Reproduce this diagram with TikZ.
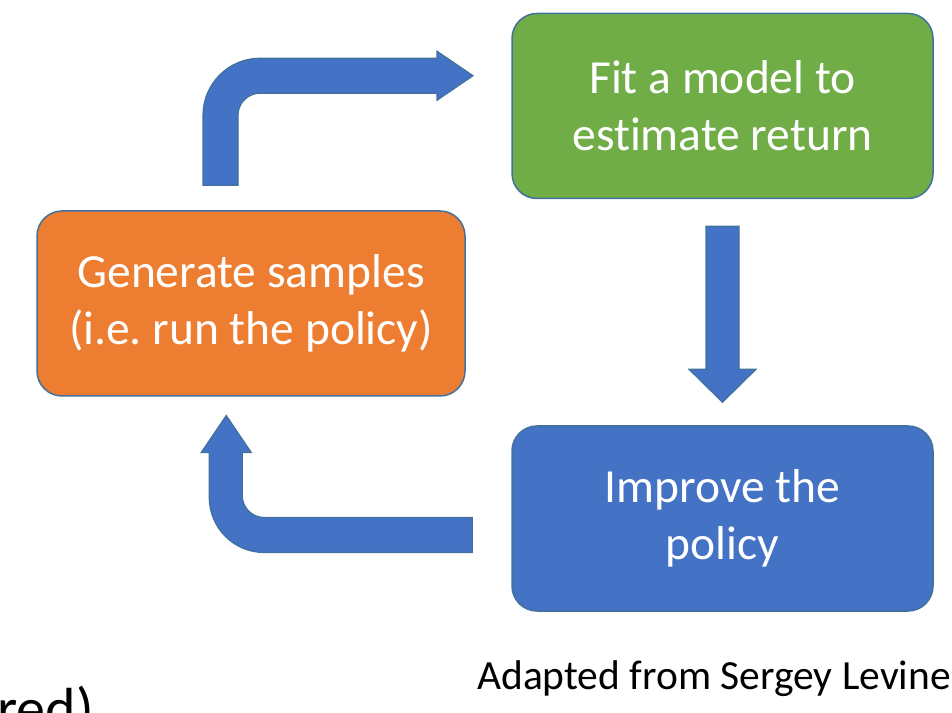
\documentclass[tikz,border=0pt]{standalone}
\usepackage{fontspec}
\setmainfont[Ligatures=NoCommon]{Carlito}
\frenchspacing
\usetikzlibrary{positioning}
\definecolor{fitgreen}{RGB}{112,173,71}
\definecolor{samplesorange}{RGB}{237,125,49}
\definecolor{improveblue}{RGB}{68,114,196}
\definecolor{edgeblue}{RGB}{65,113,156}

\begin{document}
\begin{tikzpicture}[x=1pt, y=1pt,
    stage/.style={rectangle, rounded corners=25pt, draw=edgeblue, line width=1.5pt, text=white, align=center, minimum width=421pt, minimum height=185pt, font=\fontsize{47.5}{57}\selectfont},
    blockarrow/.style={fill=improveblue, draw=edgeblue, line width=1.2pt, line join=miter}
]
\useasboundingbox (0,0) rectangle (952,712);

% the three stages
\node[stage, fill=fitgreen] (fit) at (722.5,606) {Fit a model to\\estimate return};
\node[stage, fill=improveblue, below=226pt of fit] (improve) {Improve the\\policy};
\node[stage, fill=samplesorange, minimum width=428pt] (samples) at (251,408.5) {Generate samples\\(i.e. run the policy)};

% arrow tails
\coordinate (a1s) at ([xshift=-30.5pt, yshift=25pt]samples.north);
\coordinate (a2s) at ([yshift=-27pt]fit.south);
\coordinate (a3s) at ([xshift=-39pt, yshift=-16.5pt]improve.west);

% samples -> fit
\draw[blockarrow] ([xshift=-17.5pt]a1s) -- ++(0,70) arc[start angle=180, end angle=90, radius=57]
    -- ++(177,0) -- ++(0,7) -- ++(36,-24.5) -- ++(-36,-24.5) -- ++(0,7)
    -- ++(-177,0) arc[start angle=90, end angle=180, radius=22] -- ++(0,-70) -- cycle;

% fit -> improve
\draw[blockarrow] ([xshift=-16.5pt]a2s) -- ++(0,-143) -- ++(-17,0) -- ++(33.5,-33)
    -- ++(33.5,33) -- ++(-17,0) -- ++(0,143) -- cycle;

% improve -> samples
\draw[blockarrow] ([yshift=17.5pt]a3s) -- ++(-208,0) arc[start angle=270, end angle=180, radius=22]
    -- ++(0,43) -- ++(9,0) -- ++(-25,37) -- ++(-25,-37) -- ++(8,0)
    -- ++(0,-45) arc[start angle=180, end angle=270, radius=55] -- ++(208,0) -- cycle;

% captions
\node[anchor=base west, inner sep=0pt, font=\fontsize{41.5}{50}\selectfont] (credit) at (477,23) {Adapted from Sergey Levine};
\node[anchor=base west, inner sep=0pt, font=\fontsize{58}{70}\selectfont] (tail) at (-3,-16) {red)};

\end{tikzpicture}
\end{document}
